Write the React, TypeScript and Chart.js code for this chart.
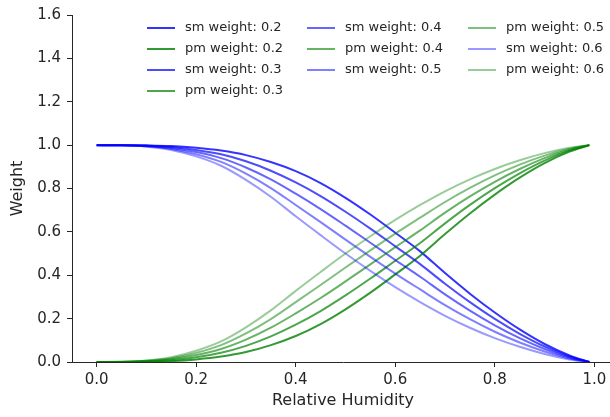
import React, { useEffect, useRef } from "react";
import { Chart, registerables } from "chart.js";
Chart.register(...registerables);

// Relative humidity sample points
const rh = [0, 0.05, 0.1, 0.15, 0.2, 0.25, 0.3, 0.35, 0.4, 0.45, 0.5, 0.55, 0.6, 0.65, 0.7, 0.75, 0.8, 0.85, 0.9, 0.95, 0.99];

const weightLabels = ["0.2", "0.3", "0.4", "0.5", "0.6"];

const sm02 = [1, 1.0, 0.999, 0.996, 0.988, 0.975, 0.954, 0.922, 0.88, 0.825, 0.757, 0.68, 0.596, 0.51, 0.41, 0.315, 0.228, 0.15, 0.083, 0.03, 0];
const sm03 = [1, 0.9998, 0.9975, 0.9915, 0.978, 0.9575, 0.9255, 0.882, 0.828, 0.765, 0.6928, 0.615, 0.5333, 0.4515, 0.3608, 0.2758, 0.1985, 0.13, 0.0715, 0.0255, 0];
const sm04 = [1, 0.9995, 0.996, 0.987, 0.968, 0.94, 0.897, 0.842, 0.776, 0.705, 0.6285, 0.55, 0.4705, 0.393, 0.3115, 0.2365, 0.169, 0.11, 0.06, 0.021, 0];
const sm05 = [1, 0.9993, 0.9945, 0.9825, 0.958, 0.9225, 0.8685, 0.802, 0.724, 0.645, 0.5643, 0.485, 0.4078, 0.3345, 0.2623, 0.1973, 0.1395, 0.09, 0.0485, 0.0165, 0];
const sm06 = [1, 0.999, 0.993, 0.978, 0.948, 0.905, 0.84, 0.762, 0.672, 0.585, 0.5, 0.42, 0.345, 0.276, 0.213, 0.158, 0.11, 0.07, 0.037, 0.012, 0];

const pm02 = [0, 0, 0.001, 0.004, 0.012, 0.025, 0.046, 0.078, 0.12, 0.175, 0.243, 0.32, 0.404, 0.49, 0.59, 0.685, 0.772, 0.85, 0.917, 0.97, 1];
const pm03 = [0, 0.0002, 0.0025, 0.0085, 0.022, 0.0425, 0.0745, 0.118, 0.172, 0.235, 0.3072, 0.385, 0.4667, 0.5485, 0.6392, 0.7242, 0.8015, 0.87, 0.9285, 0.9745, 1];
const pm04 = [0, 0.0005, 0.004, 0.013, 0.032, 0.06, 0.103, 0.158, 0.224, 0.295, 0.3715, 0.45, 0.5295, 0.607, 0.6885, 0.7635, 0.831, 0.89, 0.94, 0.979, 1];
const pm05 = [0, 0.0007, 0.0055, 0.0175, 0.042, 0.0775, 0.1315, 0.198, 0.276, 0.355, 0.4357, 0.515, 0.5922, 0.6655, 0.7377, 0.8027, 0.8605, 0.91, 0.9515, 0.9835, 1];
const pm06 = [0, 0.001, 0.007, 0.022, 0.052, 0.095, 0.16, 0.238, 0.328, 0.415, 0.5, 0.58, 0.655, 0.724, 0.787, 0.842, 0.89, 0.93, 0.963, 0.988, 1];

const smSeries = [sm02, sm03, sm04, sm05, sm06];
const pmSeries = [pm02, pm03, pm04, pm05, pm06];
const alphas = [0.8, 0.7, 0.6, 0.5, 0.4];

const xTicks = [0, 0.2, 0.4, 0.6, 0.8, 1.0];
const yTicks = [0, 0.2, 0.4, 0.6, 0.8, 1.0, 1.2, 1.4, 1.6];

const CW = 630;
const CH = 417;
const FONT = '"DejaVu Sans", "Liberation Sans", sans-serif';
const TEXT = "#262626";

const overlayPlugin = {
  id: "overlay",
  afterDraw(chart: any) {
    const ctx = chart.ctx;
    const area = chart.chartArea;
    ctx.save();
    ctx.fillStyle = TEXT;
    ctx.font = `16px ${FONT}`;
    ctx.textAlign = "center";
    ctx.textBaseline = "middle";
    ctx.fillText("Relative Humidity", (area.left + area.right) / 2, 401);
    ctx.save();
    ctx.translate(18, (area.top + area.bottom) / 2);
    ctx.rotate(-Math.PI / 2);
    ctx.fillText("Weight", 0, 0);
    ctx.restore();

    const colX = [147, 307, 468];
    const rowY = [28, 49, 70, 91];
    const colStart = [0, 4, 7];
    ctx.font = `13px ${FONT}`;
    ctx.textAlign = "left";
    chart.data.datasets.forEach((ds: any, i: number) => {
      const col = i >= colStart[2] ? 2 : i >= colStart[1] ? 1 : 0;
      const row = i - colStart[col];
      const x = colX[col];
      const y = rowY[row];
      ctx.strokeStyle = ds.borderColor;
      ctx.lineWidth = 2;
      ctx.beginPath();
      ctx.moveTo(x, y);
      ctx.lineTo(x + 28, y);
      ctx.stroke();
      ctx.fillStyle = TEXT;
      ctx.fillText(ds.label, x + 38, y);
    });
    ctx.restore();
  },
};

export default function App() {
  const ref = useRef<HTMLCanvasElement | null>(null);

  useEffect(() => {
    if (!ref.current) return;
    const datasets: any[] = [];
    weightLabels.forEach((w, k) => {
      datasets.push({
        label: `sm weight: ${w}`,
        data: rh.map((x, j) => ({ x, y: smSeries[k][j] })),
        borderColor: `rgba(0,0,255,${alphas[k]})`,
      });
      datasets.push({
        label: `pm weight: ${w}`,
        data: rh.map((x, j) => ({ x, y: pmSeries[k][j] })),
        borderColor: `rgba(0,128,0,${alphas[k]})`,
      });
    });
    const n = datasets.length;
    datasets.forEach((d, i) => {
      d.borderWidth = 2;
      d.pointRadius = 0;
      d.fill = false;
      d.cubicInterpolationMode = "monotone";
      d.order = n - i;
    });

    const chart = new Chart(ref.current, {
      type: "line",
      data: { datasets },
      options: {
        animation: false,
        responsive: false,
        devicePixelRatio: 1,
        layout: { padding: { top: 12, right: CW - 614, left: 0, bottom: 0 } },
        plugins: { legend: { display: false }, tooltip: { enabled: false } },
        scales: {
          x: {
            type: "linear",
            min: -0.0495,
            max: 1.0395,
            afterBuildTicks: (s: any) => {
              s.ticks = xTicks.map((v) => ({ value: v }));
            },
            afterFit: (s: any) => {
              s.height = CH - 362;
            },
            ticks: {
              callback: (v: any) => Number(v).toFixed(1),
              color: TEXT,
              font: { family: FONT, size: 15 },
              padding: 4,
              maxRotation: 0,
            },
            grid: { drawOnChartArea: false, drawTicks: true, tickLength: 5, color: TEXT },
            border: { display: true, color: TEXT, width: 1 },
          },
          y: {
            type: "linear",
            min: 0,
            max: 1.6,
            afterBuildTicks: (s: any) => {
              s.ticks = yTicks.map((v) => ({ value: v }));
            },
            afterFit: (s: any) => {
              s.width = 72;
            },
            ticks: {
              callback: (v: any) => Number(v).toFixed(1),
              color: TEXT,
              font: { family: FONT, size: 15 },
              padding: 6,
            },
            grid: { drawOnChartArea: false, drawTicks: true, tickLength: 5, color: TEXT },
            border: { display: true, color: TEXT, width: 1 },
          },
        },
      },
      plugins: [overlayPlugin],
    });
    return () => chart.destroy();
  }, []);

  return (
    <div style={{ position: "fixed", left: 0, top: 0, width: 610, height: 417, overflow: "hidden", background: "#fff" }}>
      <canvas ref={ref} width={CW} height={CH} style={{ width: CW, height: CH, display: "block" }} />
    </div>
  );
}
